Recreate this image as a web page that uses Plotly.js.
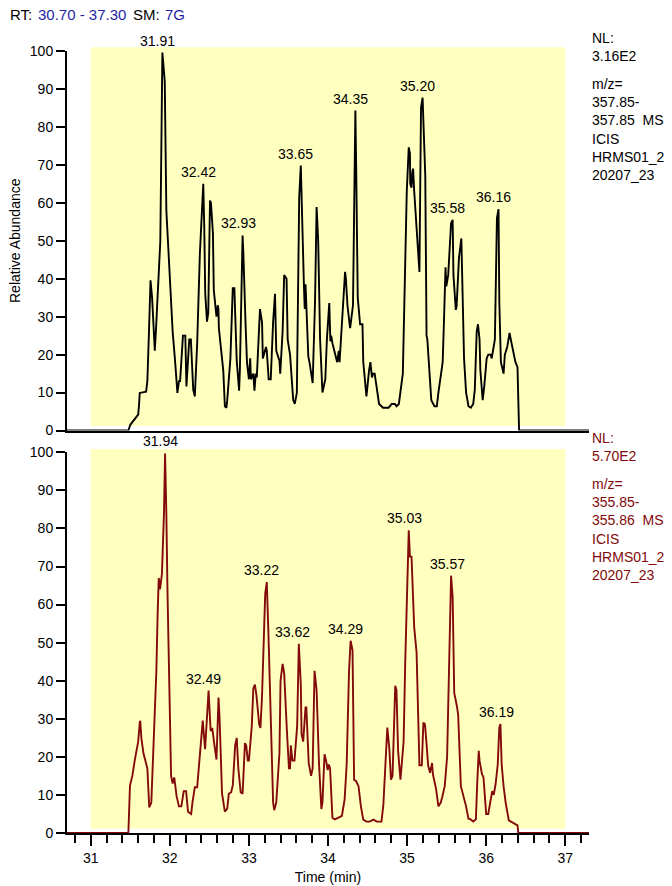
<!DOCTYPE html>
<html>
<head>
<meta charset="utf-8">
<script src="https://cdn.plot.ly/plotly-3.0.1.min.js"></script>
<style>html,body{margin:0;padding:0;background:#fff;}</style>
</head>
<body>
<div id="chart" style="width:672px;height:886px;"></div>
<script>
// ---- data ----
const topTime = [30.70,31.476,31.50,31.60,31.61,31.62,31.70,31.716,31.736,31.752,31.756,31.776,31.81,31.826,31.86,31.88,31.906,31.936,31.956,31.97,32.016,32.036,32.066,32.096,32.116,32.13,32.166,32.196,32.21,32.246,32.266,32.296,32.316,32.346,32.38,32.40,32.423,32.435,32.448,32.47,32.486,32.508,32.52,32.545,32.556,32.59,32.606,32.615,32.62,32.676,32.696,32.716,32.726,32.766,32.796,32.816,32.846,32.876,32.886,32.92,32.93,32.956,32.976,33.00,33.016,33.026,33.056,33.07,33.086,33.10,33.14,33.166,33.176,33.216,33.226,33.25,33.276,33.306,33.33,33.346,33.386,33.396,33.426,33.446,33.476,33.49,33.52,33.56,33.58,33.606,33.636,33.656,33.676,33.696,33.706,33.716,33.751,33.766,33.806,33.836,33.856,33.876,33.90,33.93,33.966,33.986,34.016,34.03,34.04,34.056,34.116,34.136,34.146,34.196,34.216,34.226,34.246,34.276,34.28,34.316,34.33,34.346,34.356,34.376,34.406,34.436,34.446,34.476,34.486,34.52,34.536,34.556,34.57,34.59,34.626,34.646,34.696,34.766,34.806,34.846,34.866,34.896,34.946,34.96,34.976,34.996,35.021,35.036,35.04,35.056,35.066,35.076,35.09,35.156,35.176,35.186,35.196,35.23,35.246,35.256,35.29,35.306,35.346,35.376,35.396,35.416,35.45,35.466,35.486,35.496,35.52,35.556,35.576,35.586,35.616,35.626,35.64,35.656,35.686,35.706,35.72,35.746,35.776,35.806,35.836,35.856,35.88,35.896,35.916,35.926,35.956,35.976,36.006,36.026,36.056,36.07,36.11,36.136,36.156,36.166,36.186,36.22,36.236,36.266,36.296,36.316,36.346,36.37,36.396,36.406,36.416,37.30];
const topAbund = [0,0,1.5,4.2,6.5,9.9,10.2,13,25.7,35,39.6,35,21,27,40.6,50,99.6,92,58,52,31,26,18.5,9.9,13,13,25,25,11.6,24,24,10.7,9,23,46.6,57,65,54,36,28.7,31,60.6,60,52,37,30,33,32,27,15.8,6.4,6,8,19,37.5,37.5,18.4,10.5,16,51.4,46.6,29,17.8,13.5,19,13.5,15,10.5,15,14,32,28.5,19,22,21,13.5,13.5,28.6,36,21,18.4,15,26,41,40,24,20,8,7,9.9,61.5,69.8,50,37.9,32,38.5,19.5,18,12.5,34,58.9,50,24,10,13.5,24,33.6,23.5,25,23,18,21,18,34,41.8,40,33,27.5,27,33,64,84.3,70,35,28,28,18,9.4,9,16,18,14,15,15,9.9,7,6,6,7,7,6.4,7,15,28,41.4,63,74.6,73,65,64,68,69,63,41.8,85,87,87.7,67,25,24,10.7,8,6.4,6.4,10,13,18,28.7,43,38,41,54.6,55.5,41,31.8,32.7,41,45.5,50.6,34.5,19,10,6.4,6,7,10.7,26,28,24,16,8,11.7,19,20,20,19,24,56,58.3,34,18,15,20,22,25.7,23.5,20.5,18,16.7,6,0,0];

const botTime = [30.70,31.476,31.496,31.526,31.556,31.60,31.62,31.626,31.64,31.666,31.716,31.74,31.766,31.79,31.81,31.83,31.846,31.86,31.876,31.90,31.926,31.94,31.956,31.97,32.016,32.036,32.056,32.086,32.116,32.146,32.176,32.206,32.23,32.27,32.286,32.316,32.346,32.38,32.406,32.416,32.446,32.466,32.49,32.516,32.536,32.566,32.59,32.616,32.63,32.66,32.696,32.726,32.746,32.776,32.796,32.826,32.846,32.866,32.896,32.92,32.95,32.966,32.986,33.00,33.036,33.056,33.076,33.096,33.13,33.146,33.166,33.206,33.226,33.246,33.276,33.306,33.32,33.346,33.386,33.40,33.426,33.446,33.48,33.506,33.52,33.53,33.55,33.576,33.61,33.631,33.656,33.666,33.686,33.716,33.726,33.756,33.786,33.806,33.83,33.856,33.886,33.916,33.93,33.956,33.976,33.996,34.01,34.026,34.056,34.086,34.126,34.176,34.21,34.236,34.266,34.286,34.31,34.33,34.356,34.386,34.416,34.446,34.486,34.526,34.576,34.616,34.676,34.70,34.726,34.75,34.776,34.796,34.816,34.83,34.85,34.866,34.886,34.916,34.956,34.976,34.996,35.021,35.036,35.056,35.09,35.12,35.156,35.186,35.206,35.226,35.246,35.266,35.29,35.316,35.326,35.366,35.396,35.426,35.446,35.476,35.506,35.53,35.556,35.576,35.596,35.63,35.646,35.68,35.716,35.746,35.776,35.796,35.836,35.87,35.886,35.906,35.916,35.946,35.966,36.00,36.026,36.046,36.076,36.096,36.12,36.146,36.166,36.18,36.196,36.22,36.246,36.286,36.326,36.366,36.396,36.406,37.30];
const botAbund = [0,0,12.4,15,19,24,29,29.5,25,21,17,6.7,8,21,28,42.6,57.6,67,64,68,84,99.7,84,64,15,13,14.6,9.6,7,7,11,11,5.6,5,8,12,12,20,28,29.5,22,27.8,37.4,26.8,27.6,22.8,19.3,35.6,29.6,10.4,5.6,6.4,10.3,10.7,12.5,23,25,17,10.7,10.3,23.6,23,19,19,28,38,39,36,28.5,27.6,36,62.8,65.9,53,27,8,6,8,21,40,44.4,42,27,17,17,23,19,19,28,49.7,39,26,24,33,33,18.4,15,17,42.6,37.5,18.4,6.3,8,20.7,19,16.5,18,17,4,3.6,4,4.5,8.8,18,42.6,50.5,48,14,13.6,12.3,7,3.5,3,3,3.5,3,3,7.4,18,27.7,22,14,15,24,38.7,37.5,21.7,14,24,44.4,60,79.5,72.6,72.6,54,47.4,17.8,17.8,29,28.6,23.4,17.8,15.8,18.4,15.5,11.6,7,8,9.6,12.3,20,42.6,67.6,62,36.8,33.3,31,12.3,9.6,7,3.7,3.7,3,3.6,12.8,21.6,19,15.5,14.6,5,5,7.6,11,10,13,18,27.7,28.6,18,12.3,8,3.3,2.8,2.4,2,0,0];

const topPeakLabels = ['31.91','32.42','32.93','33.65','34.35','35.20','35.58','36.16'];
const botPeakLabels = ['31.94','32.49','33.22','33.62','34.29','35.03','35.57','36.19'];

const topInfo = ['NL:','3.16E2'];
const topScan = ['m/z=','357.85-','357.85&nbsp; MS','ICIS','HRMS01_2','20207_23'];
const botInfo = ['NL:','5.70E2'];
const botScan = ['m/z=','355.85-','355.86&nbsp; MS','ICIS','HRMS01_2','20207_23'];

const headerParts = ['RT:', '30.70 - 37.30', 'SM:', '7G'];

const yTicks = [0,10,20,30,40,50,60,70,80,90,100];
const xTicks = [31,32,33,34,35,36,37];

// ---- styling ----
const FONT = 'Liberation Sans, Arial, Helvetica, sans-serif';
const RED = '#820a0a';
const BLUE = '#1f1fa6';

function peakHeight(times, vals, t) {
  let best = 0;
  for (let i = 0; i < times.length; i++) {
    if (Math.abs(times[i] - t) <= 0.035 && vals[i] > best) best = vals[i];
  }
  return best;
}

const traces = [
  {x: topTime, y: topAbund, xaxis: 'x2', yaxis: 'y2', type: 'scatter', mode: 'lines',
   line: {color: '#000000', width: 1.9}, hoverinfo: 'skip'},
  {x: botTime, y: botAbund, xaxis: 'x', yaxis: 'y', type: 'scatter', mode: 'lines',
   line: {color: RED, width: 1.9}, hoverinfo: 'skip'}
];

const annotations = [];
topPeakLabels.forEach(function (lab) {
  const t = parseFloat(lab);
  annotations.push({x: t, y: peakHeight(topTime, topAbund, t), xref: 'x2', yref: 'y2', text: lab,
    showarrow: false, yanchor: 'bottom', xanchor: 'center', yshift: 2, xshift: -5,
    font: {family: FONT, size: 14, color: '#000'}});
});
botPeakLabels.forEach(function (lab) {
  const t = parseFloat(lab);
  annotations.push({x: t, y: peakHeight(botTime, botAbund, t), xref: 'x', yref: 'y', text: lab,
    showarrow: false, yanchor: 'bottom', xanchor: 'center', yshift: 2, xshift: -5,
    font: {family: FONT, size: 14, color: '#000'}});
});

function sideBlock(lines, y, color) {
  annotations.push({x: 1, y: y, xref: 'paper', yref: 'paper', text: lines.join('<br>'),
    showarrow: false, xanchor: 'left', yanchor: 'top', align: 'left', xshift: 1,
    font: {family: FONT, size: 14, color: color}});
}
sideBlock(topInfo, 1.0296, '#000');
sideBlock(topScan, 0.970, '#000');
sideBlock(botInfo, 0.5178, RED);
sideBlock(botScan, 0.4591, RED);

// header: "RT: 30.70 - 37.30   SM: 7G"
const headerX = [8, 36, 131, 163];          // left edges in px
const headerColor = ['#000', BLUE, '#000', BLUE];
headerParts.forEach(function (txt, i) {
  annotations.push({x: (headerX[i] - 67) / 522, y: 1.0473, xref: 'paper', yref: 'paper',
    xanchor: 'left', yanchor: 'middle', showarrow: false, text: txt,
    font: {family: FONT, size: 15, color: headerColor[i]}});
});

const shapes = [
  {type: 'rect', xref: 'x2', yref: 'paper', x0: 31, x1: 37, y0: 0.5205, y1: 1.0047,
   fillcolor: '#ffffbf', line: {width: 0}, layer: 'below'},
  {type: 'rect', xref: 'x', yref: 'paper', x0: 31, x1: 37, y0: 0.0055, y1: 0.491,
   fillcolor: '#ffffbf', line: {width: 0}, layer: 'below'}
];

const yCommon = {
  range: [0, 100], tickmode: 'array', tickvals: yTicks, ticktext: yTicks.map(String),
  ticks: 'outside', ticklen: 9, tickwidth: 2, tickcolor: '#000',
  showline: true, linecolor: '#000', linewidth: 2, showgrid: false, zeroline: false,
  tickfont: {family: FONT, size: 14, color: '#000'}, automargin: false, fixedrange: true
};

const layout = {
  width: 672, height: 886,
  margin: {l: 67, r: 83, t: 51, b: 53},
  paper_bgcolor: '#ffffff', plot_bgcolor: 'rgba(0,0,0,0)',
  showlegend: false,
  font: {family: FONT, size: 14, color: '#000'},
  xaxis: {
    domain: [0, 1], anchor: 'y', range: [30.7, 37.3],
    tickmode: 'array', tickvals: xTicks, ticktext: xTicks.map(String),
    ticks: 'outside', ticklen: 11, tickwidth: 2, tickcolor: '#000',
    minor: {ticks: 'outside', tick0: 31, dtick: 0.2, ticklen: 8, tickwidth: 2, tickcolor: '#000'},
    showline: true, linecolor: '#000', linewidth: 2, showgrid: false, zeroline: false,
    tickfont: {family: FONT, size: 14, color: '#000'},
    title: {text: 'Time (min)', standoff: 7, font: {family: FONT, size: 14, color: '#000'}},
    automargin: false
  },
  xaxis2: {
    domain: [0, 1], anchor: 'y2', range: [30.7, 37.3], matches: 'x',
    showline: true, linecolor: '#000', linewidth: 2, ticks: '', showticklabels: false,
    showgrid: false, zeroline: false, automargin: false
  },
  yaxis: Object.assign({domain: [0, 0.4868], anchor: 'x'}, yCommon),
  yaxis2: Object.assign({domain: [0.5147, 1], anchor: 'x2',
    title: {text: 'Relative Abundance', standoff: 6, font: {family: FONT, size: 14, color: '#000'}}}, yCommon),
  shapes: shapes,
  annotations: annotations
};

Plotly.newPlot('chart', traces, layout, {staticPlot: true, displayModeBar: false});
</script>
</body>
</html>
